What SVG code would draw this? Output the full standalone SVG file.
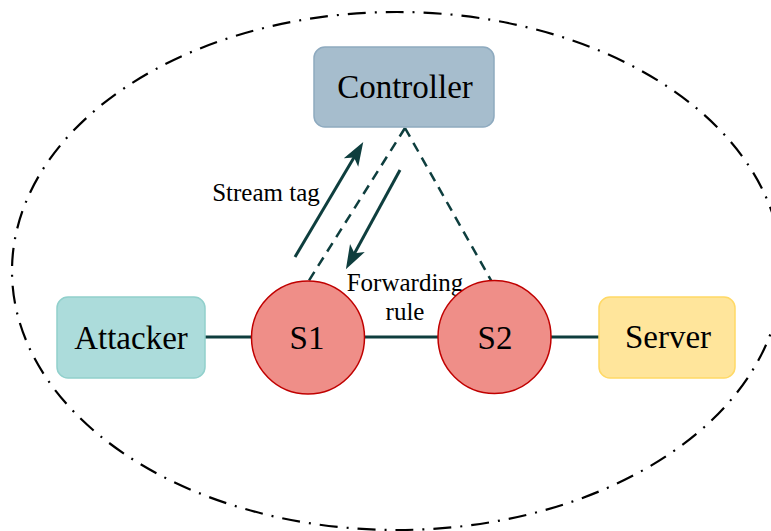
<svg xmlns="http://www.w3.org/2000/svg" width="771" height="531" viewBox="0 0 771 531">
  <defs>
    <style>
      .lbl { font-family: "Liberation Serif", "Times New Roman", serif; fill: #000; text-anchor: middle; }
      .node { font-size: 33px; }
      .edge { font-size: 25px; }
      .link { stroke: #0e3e3e; stroke-width: 3; fill: none; }
      .dash { stroke: #0e3e3e; stroke-width: 2.5; stroke-dasharray: 10 7; fill: none; }
      .sw { fill: #ef8e88; stroke: #c00000; stroke-width: 1.5; }
    </style>
    <marker id="arr" markerUnits="userSpaceOnUse" markerWidth="30" markerHeight="30" refX="0" refY="0" viewBox="-10 -10 25 20" orient="auto" overflow="visible">
      <path d="M12,0 L-8,-7 L-3,0 L-8,7 Z" fill="#0e3e3e"/>
    </marker>
  </defs>

  <ellipse cx="397" cy="271" rx="385" ry="259" fill="none" stroke="#000" stroke-width="2.2" stroke-dasharray="18 9 2 9"/>

  <g id="connectors">
    <line class="link" x1="205" y1="337" x2="251" y2="337"/>
    <line class="link" x1="364" y1="337" x2="438" y2="337"/>
    <line class="link" x1="551" y1="337" x2="599" y2="337"/>
    <line class="dash" x1="405" y1="128" x2="308" y2="282"/>
    <line class="dash" x1="405" y1="128" x2="492" y2="282"/>
    <line class="link" x1="295" y1="257" x2="355.9" y2="154.3" marker-end="url(#arr)"/>
    <line class="link" x1="400" y1="170" x2="352.8" y2="256.5" marker-end="url(#arr)"/>
    <text class="lbl edge" x="266" y="201">Stream tag</text>
    <text class="lbl edge" x="405" y="291">Forwarding</text>
    <text class="lbl edge" x="405" y="320">rule</text>
  </g>

  <g id="controller">
    <rect x="314" y="47" width="180" height="80" rx="11" fill="#a6bdcd" stroke="#8eaabf" stroke-width="1.5"/>
    <text class="lbl node" x="405" y="98">Controller</text>
  </g>

  <g id="attacker">
    <rect x="57" y="297" width="148" height="81" rx="11" fill="#acdcdb" stroke="#91d0cc" stroke-width="1.5"/>
    <text class="lbl node" x="131" y="349">Attacker</text>
  </g>

  <g id="s1">
    <circle class="sw" cx="308" cy="337.5" r="56.5"/>
    <text class="lbl node" x="307" y="349">S1</text>
  </g>

  <g id="s2">
    <circle class="sw" cx="494.5" cy="337" r="56.5"/>
    <text class="lbl node" x="495" y="349">S2</text>
  </g>

  <g id="server">
    <rect x="599" y="297" width="136" height="81" rx="11" fill="#ffe59b" stroke="#ffd966" stroke-width="1.5"/>
    <text class="lbl node" x="668" y="348">Server</text>
  </g>
</svg>
